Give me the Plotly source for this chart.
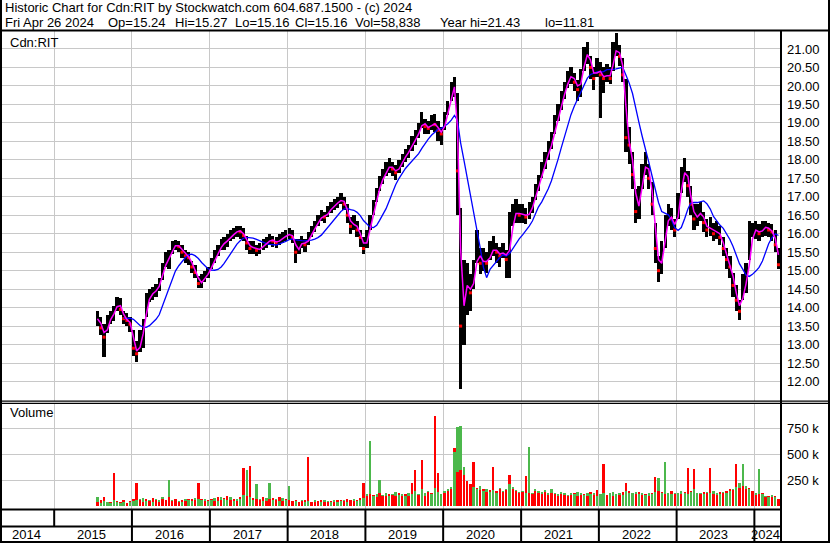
import numpy as np
import pandas as pd
import plotly.graph_objects as go

# ---------------- data (half-month periods, Jul-2015 H2 .. Apr-2024 H2) ----------------
close = [
    # 2015
    13.70, 13.45, 13.20, 13.60, 13.75, 13.90, 14.15, 13.95, 13.70, 13.65, 13.55,
    # 2016
    12.90, 12.75, 13.10, 13.50, 14.10, 14.35, 14.40, 14.50, 14.65, 15.00, 15.30, 15.35,
    15.65, 15.70, 15.65, 15.50, 15.40, 15.35, 15.10, 14.95, 14.65, 14.70, 14.85, 14.95,
    # 2017
    15.20, 15.35, 15.55, 15.70, 15.75, 15.85, 15.95, 16.00, 16.10, 16.05, 15.95, 15.75,
    15.60, 15.65, 15.55, 15.60, 15.70, 15.75, 15.85, 15.80, 15.75, 15.85, 15.90, 15.95,
    # 2018
    16.00, 15.90, 15.50, 15.65, 15.80, 15.70, 15.90, 16.05, 16.20, 16.35, 16.50, 16.45,
    16.60, 16.70, 16.80, 16.85, 16.95, 16.80, 16.50, 16.20, 16.30, 16.10, 15.90, 15.60,
    # 2019
    15.90, 16.30, 16.70, 17.05, 17.35, 17.55, 17.75, 17.85, 17.75, 17.65, 17.85, 18.00,
    18.15, 18.25, 18.45, 18.60, 18.80, 19.05, 18.90, 18.85, 19.00, 18.95, 18.80, 18.70,
    # 2020
    19.10, 19.45, 19.90, 20.05, 17.70, 13.50, 14.60, 14.60, 14.40, 14.90, 15.60, 15.20,
    15.30, 15.20, 15.50, 15.60, 15.50, 15.40, 15.55, 15.30, 15.80, 16.50, 16.60, 16.50,
    # 2021
    16.55, 16.45, 16.60, 16.80, 17.10, 17.40, 17.75, 18.00, 18.25, 18.50, 18.95, 19.30,
    19.60, 19.90, 20.20, 20.30, 20.10, 19.90, 20.20, 20.80, 20.90, 20.50, 20.20, 20.50,
    # 2022
    20.30, 20.20, 20.35, 20.20, 20.90, 21.00, 20.80, 20.30, 18.60, 18.40, 17.60, 16.60,
    16.90, 17.60, 18.00, 17.50, 16.80, 15.60, 15.00, 15.40, 16.20, 16.50, 16.40, 16.10,
    # 2023
    16.80, 17.50, 17.80, 17.30, 16.80, 16.40, 16.50, 16.60, 16.30, 16.10, 16.20, 16.00,
    16.10, 15.90, 15.60, 15.30, 15.10, 14.60, 14.20, 13.90, 14.60, 14.70, 15.60, 16.10,
    # 2024
    16.10, 16.00, 16.15, 16.20, 16.10, 16.05, 15.70, 15.16,
]

high = [
    # 2015
    13.90, 13.75, 13.55, 13.80, 13.90, 14.05, 14.30, 14.25, 13.90, 13.85, 13.75,
    # 2016
    13.40, 13.10, 13.40, 13.70, 14.40, 14.50, 14.55, 14.65, 14.80, 15.20, 15.50, 15.55,
    15.80, 15.82, 15.80, 15.70, 15.55, 15.50, 15.25, 15.15, 14.85, 14.90, 15.00, 15.10,
    # 2017
    15.35, 15.55, 15.70, 15.85, 15.90, 16.00, 16.10, 16.15, 16.20, 16.20, 16.15, 15.95,
    15.80, 15.80, 15.70, 15.75, 15.85, 15.90, 16.00, 15.95, 15.90, 16.00, 16.05, 16.10,
    # 2018
    16.15, 16.10, 15.85, 15.85, 15.95, 15.85, 16.05, 16.20, 16.35, 16.50, 16.65, 16.60,
    16.75, 16.85, 16.95, 17.00, 17.10, 17.00, 16.80, 16.45, 16.50, 16.35, 16.10, 15.90,
    # 2019
    16.10, 16.50, 16.90, 17.25, 17.55, 17.75, 17.95, 18.05, 17.95, 17.85, 18.00, 18.15,
    18.30, 18.40, 18.65, 18.80, 19.00, 19.30, 19.10, 19.05, 19.20, 19.25, 19.05, 18.90,
    # 2020
    19.30, 19.60, 20.10, 20.25, 19.80, 16.70, 15.30, 15.20, 14.90, 15.30, 16.10, 15.60,
    15.60, 15.50, 15.80, 15.95, 15.75, 15.65, 15.75, 15.55, 16.60, 16.80, 16.95, 16.80,
    # 2021
    16.80, 16.70, 16.85, 17.00, 17.35, 17.60, 17.95, 18.20, 18.50, 18.75, 19.20, 19.50,
    19.85, 20.10, 20.40, 20.50, 20.35, 20.15, 20.45, 21.05, 21.20, 20.80, 20.50, 20.75,
    # 2022
    20.65, 20.50, 20.60, 20.50, 21.20, 21.43, 21.10, 20.75, 20.20, 18.90, 18.20, 17.20,
    17.30, 17.90, 18.20, 17.90, 17.40, 16.30, 15.40, 15.80, 16.50, 16.80, 16.70, 16.40,
    # 2023
    17.10, 17.80, 18.05, 17.70, 17.30, 16.80, 16.80, 16.85, 16.60, 16.40, 16.45, 16.30,
    16.35, 16.20, 15.90, 15.60, 15.40, 14.95, 14.60, 14.20, 14.90, 15.20, 16.35, 16.30,
    # 2024
    16.35, 16.25, 16.35, 16.35, 16.30, 16.25, 16.10, 15.60,
]

low = [
    # 2015
    13.50, 13.25, 12.65, 13.30, 13.55, 13.65, 13.90, 13.80, 13.55, 13.50, 13.35,
    # 2016
    12.70, 12.53, 12.80, 12.90, 13.75, 14.15, 14.20, 14.30, 14.45, 14.75, 15.10, 15.05,
    15.45, 15.55, 15.50, 15.35, 15.20, 15.15, 14.95, 14.80, 14.52, 14.52, 14.70, 14.80,
    # 2017
    15.05, 15.20, 15.40, 15.55, 15.55, 15.65, 15.80, 15.85, 15.90, 15.85, 15.80, 15.55,
    15.45, 15.45, 15.40, 15.45, 15.55, 15.60, 15.70, 15.65, 15.60, 15.70, 15.75, 15.80,
    # 2018
    15.85, 15.75, 15.20, 15.45, 15.60, 15.50, 15.70, 15.90, 16.05, 16.20, 16.35, 16.30,
    16.45, 16.55, 16.65, 16.70, 16.80, 16.65, 16.30, 16.00, 16.10, 15.90, 15.65, 15.45,
    # 2019
    15.60, 16.10, 16.50, 16.85, 17.15, 17.35, 17.55, 17.65, 17.55, 17.45, 17.65, 17.80,
    17.95, 18.05, 18.25, 18.40, 18.60, 18.85, 18.70, 18.70, 18.80, 18.75, 18.50, 18.40,
    # 2020
    18.80, 19.20, 19.60, 19.70, 16.50, 11.81, 13.00, 13.80, 13.90, 14.50, 15.20, 14.90,
    15.00, 14.95, 15.30, 15.40, 15.20, 15.10, 15.35, 14.80, 14.80, 16.20, 16.30, 16.30,
    # 2021
    16.30, 16.25, 16.40, 16.55, 16.90, 17.15, 17.50, 17.75, 18.00, 18.30, 18.70, 19.05,
    19.35, 19.65, 19.95, 20.05, 19.85, 19.60, 19.70, 20.40, 20.60, 20.20, 19.90, 20.25,
    # 2022
    19.14, 19.80, 20.10, 20.05, 20.40, 20.80, 20.55, 20.10, 18.20, 17.90, 17.20, 16.30,
    16.40, 17.20, 17.60, 17.20, 16.50, 15.20, 14.70, 14.90, 15.60, 16.20, 16.10, 15.90,
    # 2023
    16.40, 17.10, 17.40, 17.00, 16.50, 16.10, 16.20, 16.35, 16.05, 15.90, 15.95, 15.80,
    15.85, 15.70, 15.40, 15.05, 14.80, 14.30, 13.90, 13.66, 14.20, 14.40, 15.30, 15.90,
    # 2024
    15.85, 15.80, 15.90, 15.95, 15.90, 15.80, 15.50, 15.05,
]

# volume (thousands of shares): tallest up-day and down-day bar in each half-month
vol_up = [
    # 2015
    90, 30, 50, 40, 35, 60, 45, 30, 40, 35, 45,
    # 2016
    50, 60, 70, 80, 55, 60, 45, 75, 60, 90, 65, 250,
    60, 75, 50, 45, 70, 60, 50, 80, 75, 60, 70, 55,
    # 2017
    60, 80, 55, 90, 70, 60, 85, 55, 75, 70, 110, 346,
    85, 60, 210, 70, 55, 80, 220, 60, 70, 55, 80, 60,
    # 2018
    200, 55, 50, 45, 65, 40, 50, 45, 60, 50, 45, 65,
    50, 40, 60, 45, 50, 65, 45, 60, 75, 50, 65, 80,
    # 2019
    120, 625, 100, 115, 250, 105, 130, 100, 115, 140, 105, 120,
    100, 130, 115, 150, 120, 170, 130, 150, 120, 180, 140, 115,
    # 2020
    150, 170, 190, 520, 762, 772, 378, 240, 210, 190, 170, 200,
    150, 170, 140, 160, 130, 180, 150, 170, 210, 190, 160, 140,
    # 2021
    150, 125, 570, 130, 170, 150, 140, 160, 125, 170, 130, 115,
    140, 125, 110, 130, 115, 140, 125, 110, 130, 115, 125, 100,
    # 2022
    115, 130, 110, 125, 140, 115, 130, 110, 150, 130, 125, 140,
    115, 125, 110, 130, 115, 140, 269, 130, 426, 125, 115, 130,
    # 2023
    125, 150, 130, 115, 140, 170, 125, 130, 115, 140, 125, 150,
    130, 115, 140, 125, 150, 170, 190, 220, 410, 200, 170, 150,
    # 2024
    125, 356, 115, 100, 90, 110, 85, 75,
]

vol_down = [
    # 2015
    40, 60, 90, 45, 40, 320, 50, 40, 60, 35, 50,
    # 2016
    75, 228, 60, 45, 70, 55, 80, 60, 45, 70, 60, 85,
    55, 70, 45, 60, 55, 75, 70, 60, 220, 70, 55, 60,
    # 2017
    70, 55, 85, 60, 80, 95, 60, 70, 55, 85, 365, 95,
    385, 80, 70, 60, 85, 55, 70, 80, 60, 85, 55, 70,
    # 2018
    60, 50, 65, 45, 50, 60, 470, 45, 40, 50, 60, 45,
    40, 50, 45, 60, 65, 50, 75, 60, 50, 65, 80, 220,
    # 2019
    100, 120, 110, 90, 130, 100, 95, 120, 110, 95, 130, 100,
    120, 95, 220, 346, 110, 450, 100, 140, 130, 865, 317, 120,
    # 2020
    130, 150, 170, 565, 330, 350, 300, 240, 210, 423, 180, 160,
    170, 140, 160, 378, 150, 170, 140, 160, 298, 170, 150, 130,
    # 2021
    140, 291, 130, 120, 150, 130, 120, 140, 110, 130, 120, 100,
    120, 110, 95, 110, 130, 100, 110, 120, 100, 140, 110, 160,
    # 2022
    120, 404, 110, 130, 100, 120, 110, 140, 228, 150, 130, 120,
    140, 110, 120, 100, 130, 282, 150, 140, 120, 130, 150, 120,
    # 2023
    130, 120, 140, 369, 150, 356, 130, 120, 140, 130, 369, 120,
    110, 140, 130, 150, 170, 160, 404, 180, 200, 170, 180, 150,
    # 2024
    110, 120, 130, 90, 100, 85, 95, 70,
]

price_ticks = [12.0, 12.5, 13.0, 13.5, 14.0, 14.5, 15.0, 15.5, 16.0, 16.5, 17.0,
               17.5, 18.0, 18.5, 19.0, 19.5, 20.0, 20.5, 21.0]
vol_ticks = [250, 500, 750]
vol_tick_labels = ["250 k", "500 k", "750 k"]
years = [2014, 2015, 2016, 2017, 2018, 2019, 2020, 2021, 2022, 2023, 2024]

header1 = "Historic Chart for Cdn:RIT by Stockwatch.com 604.687.1500 - (c) 2024"
header2_fields = ["Fri Apr 26 2024", "Op=15.24", "Hi=15.27", "Lo=15.16", "Cl=15.16",
                  "Vol=58,838", "Year hi=21.43", "lo=11.81"]

# ---------------- build ----------------
W, H = 830, 543
def px(x):
    return x / W
def py(y):
    return 1 - y / H

months = pd.period_range("2015-07", "2024-04", freq="M")
dates = []
for m in months:
    for d in (8, 23):
        dates.append(pd.Timestamp(m.year, m.month, d))
dates = dates[1:]

df = pd.DataFrame({"date": dates, "close": close, "high": high, "low": low,
                   "vup": vol_up, "vdn": vol_down})
df["ma_fast"] = df["close"].rolling(2, min_periods=1).mean()
df["ma_slow"] = df["close"].rolling(9).mean()
down = df["close"] < df["close"].shift(1)

GREEN, RED = "#4cb84c", "#ff0000"
up_bigger = df["vup"] >= df["vdn"]
v_back = np.maximum(df["vup"], df["vdn"])
v_front = np.minimum(df["vup"], df["vdn"])
c_back = np.where(up_bigger, GREEN, RED)
c_front = np.where(up_bigger, RED, GREEN)

DAY = 86400000
X_START, X_END = "2014-05-01", "2024-05-05"
FONT = "Liberation Sans, Arial, sans-serif"
GRID = "#c8c8c8"

fig = go.Figure()
fig.add_trace(go.Bar(x=df["date"], y=df["high"] - df["low"], base=df["low"],
                     width=15.2 * DAY, marker=dict(color="black", line_width=0),
                     xaxis="x", yaxis="y"))
fig.add_trace(go.Scatter(x=df["date"][down], y=df["close"][down], mode="markers",
                         marker=dict(symbol="square", size=3, color=RED, line_width=0),
                         xaxis="x", yaxis="y"))
fig.add_trace(go.Scatter(x=df["date"], y=df["ma_slow"], mode="lines",
                         line=dict(color="#0000ff", width=1.3), xaxis="x", yaxis="y"))
fig.add_trace(go.Scatter(x=df["date"], y=df["ma_fast"], mode="lines",
                         line=dict(color="#ff00ff", width=1.5), xaxis="x", yaxis="y"))
fig.add_trace(go.Bar(x=df["date"], y=v_back, width=11 * DAY,
                     marker=dict(color=c_back, line_width=0), xaxis="x2", yaxis="y2"))
fig.add_trace(go.Bar(x=df["date"], y=v_front, width=11 * DAY,
                     marker=dict(color=c_front, line_width=0), xaxis="x2", yaxis="y2"))

xcommon = dict(type="date", range=[X_START, X_END], domain=[px(2), px(781)],
               showgrid=True, gridcolor=GRID, gridwidth=1, tick0="2015-01-01",
               dtick="M12", showticklabels=False, ticks="", zeroline=False,
               showline=False, fixedrange=True)

shapes = []
def hline(y, x0=0, x1=1, w=2):
    shapes.append(dict(type="line", xref="paper", yref="paper", x0=x0, x1=x1,
                       y0=py(y), y1=py(y), line=dict(color="black", width=w)))
def vline(x, y0, y1, w=2):
    shapes.append(dict(type="line", xref="paper", yref="paper", x0=px(x), x1=px(x),
                       y0=py(y0), y1=py(y1), line=dict(color="black", width=w)))

hline(30.5)
hline(401.2, w=1.2)
hline(403.4, w=1.2)
hline(509.5, 0, px(781))
hline(526.5, 0, px(781))
hline(542)
vline(1, 0, 543)
vline(829, 0, 543)
vline(781, 30, 543)

for yr in years[1:]:
    d = f"{yr}-01-01"
    shapes.append(dict(type="line", xref="x", yref="paper", x0=d, x1=d,
                       y0=py(526), y1=py(510), line=dict(color="black", width=2)))
    if yr >= 2016:
        shapes.append(dict(type="line", xref="x", yref="paper", x0=d, x1=d,
                           y0=py(541), y1=py(527), line=dict(color="black", width=2)))

def label(text, x, y):
    return dict(text=text, x=px(x), y=py(y), xref="paper", yref="paper",
                xanchor="left", yanchor="middle", showarrow=False,
                font=dict(family=FONT, size=13, color="black"))

annotations = [label(header1, 3, 7.5)]
header2_x = [3, 106, 173, 233, 293, 353, 438, 543]
for txt, xx in zip(header2_fields, header2_x):
    annotations.append(label(txt, xx, 22.5))
annotations.append(label("Cdn:RIT", 8, 42))
annotations.append(label("Volume", 8, 413))

x0 = pd.Timestamp(X_START)
x1 = pd.Timestamp(X_END)
for yr in years:
    a = max(pd.Timestamp(f"{yr}-01-01"), x0)
    b = min(pd.Timestamp(f"{yr + 1}-01-01"), x1)
    mid = a + (b - a) / 2 - pd.Timedelta(days=8)
    annotations.append(dict(text=str(yr), x=mid, y=py(534.5), xref="x", yref="paper",
                            xanchor="center", yanchor="middle", showarrow=False,
                            font=dict(family=FONT, size=13, color="black")))

fig.update_layout(
    width=W, height=H, autosize=False,
    margin=dict(l=0, r=0, t=0, b=0),
    paper_bgcolor="white", plot_bgcolor="white",
    showlegend=False, barmode="overlay", bargap=0, hovermode=False,
    xaxis=dict(**xcommon, anchor="y"),
    xaxis2=dict(**xcommon, anchor="y2", matches="x"),
    yaxis=dict(domain=[py(401), py(31)], range=[11.472, 21.487], side="right",
               tickvals=price_ticks, tickformat=".2f", showgrid=True, gridcolor=GRID,
               zeroline=False, showline=False, ticks="", ticklabelstandoff=5,
               tickfont=dict(family=FONT, size=13, color="black"), fixedrange=True,
               anchor="x"),
    yaxis2=dict(domain=[py(509), py(404)], range=[-26, 983.6], side="right",
                tickvals=vol_ticks, ticktext=vol_tick_labels, showgrid=True,
                gridcolor=GRID, zeroline=False, showline=False, ticks="",
                ticklabelstandoff=5, tickfont=dict(family=FONT, size=13, color="black"),
                fixedrange=True, anchor="x2"),
    shapes=shapes,
    annotations=annotations,
)

fig.write_html(
    "out.html",
    config={"displayModeBar": False, "staticPlot": True},
    post_script="document.body.style.margin='0px';document.body.style.overflow='hidden';",
)
